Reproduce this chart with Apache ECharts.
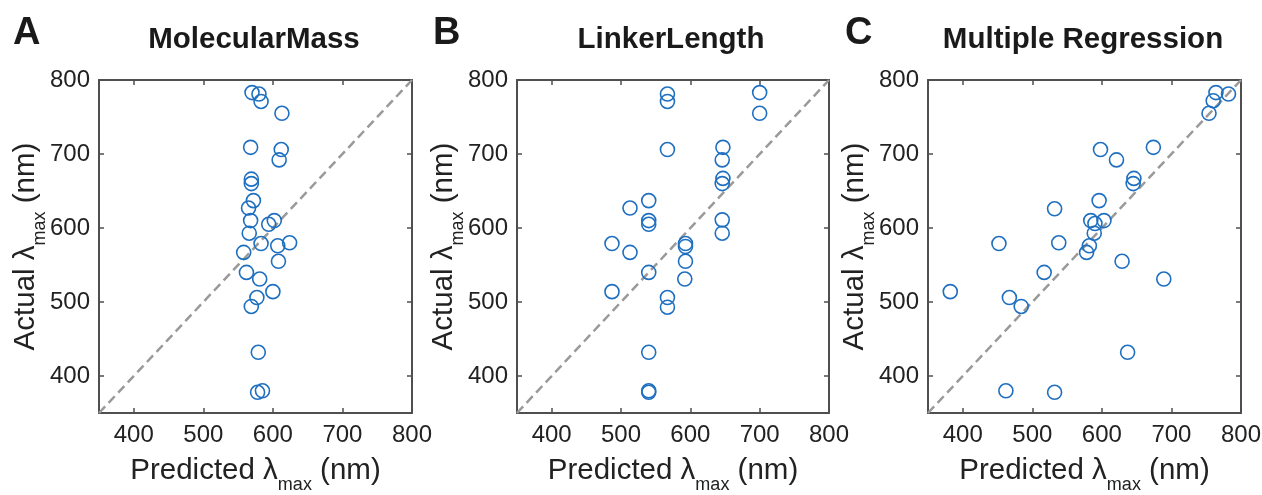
<!DOCTYPE html>
<html><head><meta charset="utf-8">
<script src="https://cdn.jsdelivr.net/npm/echarts@6/dist/echarts.min.js"></script>
<style>html,body{margin:0;padding:0;background:#fff}#c{width:1262px;height:495px}</style>
</head><body><div id="c"></div>
<script>
const TITLES = ['MolecularMass', 'LinkerLength', 'Multiple Regression'];
const LETTERS = ['A', 'B', 'C'];
const TICKS = [400, 500, 600, 700, 800];
const AXIS_MIN = 350, AXIS_MAX = 800;

const predA = [570, 580, 583, 613, 568, 612, 609, 569, 569, 572, 565, 568, 594, 602, 566, 583, 607, 624, 558, 608, 562, 581, 600, 577, 569, 579, 585, 578];
const actA  = [783, 781, 771, 755, 709, 706, 692, 666, 660, 637, 627, 610, 605, 610, 593, 579, 576, 580, 567, 555, 540, 531, 514, 506, 494, 432, 380, 378];

const predB = [567, 567, 700, 700, 567, 647, 646, 647, 646, 540, 513, 540, 540, 646, 646, 487, 593, 593, 513, 593, 540, 592, 487, 567, 567, 540, 540, 540];
const actB  = [781, 771, 783, 755, 706, 709, 692, 667, 660, 637, 627, 610, 605, 611, 593, 579, 579, 575, 567, 555, 540, 531, 514, 506, 493, 432, 380, 378];

const predC = [764, 782, 760, 754, 598, 674, 621, 646, 645, 596, 532, 584, 590, 603, 589, 452, 538, 582, 578, 629, 517, 689, 382, 467, 484, 637, 462, 532];
const actC  = [783, 781, 772, 755, 706, 709, 692, 667, 660, 637, 626, 610, 606, 610, 593, 579, 580, 576, 567, 555, 540, 531, 514, 506, 494, 432, 380, 378];

const PANELS = [[predA, actA], [predB, actB], [predC, actC]];
const DIAG = [[AXIS_MIN, AXIS_MIN], [AXIS_MAX, AXIS_MAX]];

const FONT = '"Liberation Sans", Arial, Helvetica, sans-serif';
const AX_COLOR = '#4f4f4f';
const TXT = '#222222';
const BLUE = '#1f6fc0';

const GRIDS = [
  {left: 99, top: 80, width: 313, height: 333},
  {left: 517, top: 80, width: 312, height: 333},
  {left: 928, top: 80, width: 313, height: 333}
];
const TITLE_X = [254, 671, 1083];
const LETTER_X = [13, 433, 845];

const rich = {
  m: {fontSize: 29.5, fontFamily: FONT, color: TXT, lineHeight: 46},
  s: {fontSize: 18, fontFamily: FONT, color: TXT, lineHeight: 18, verticalAlign: 'bottom'}
};

const axisLine = {show: true, onZero: false, lineStyle: {color: AX_COLOR, width: 2}};
const axisTick = {show: true, inside: true, length: 5, customValues: TICKS, lineStyle: {color: AX_COLOR, width: 1.5}};

const xAxis = [], yAxis = [], series = [], grid = [], graphic = [];
PANELS.forEach((p, i) => {
  grid.push(Object.assign({outerBoundsMode: 'none', containLabel: false}, GRIDS[i]));
  xAxis.push({
    gridIndex: i, type: 'value', position: 'bottom', min: AXIS_MIN, max: AXIS_MAX,
    axisLine, axisTick, splitLine: {show: false},
    axisLabel: {customValues: TICKS, margin: 10, fontSize: 24, fontFamily: FONT, color: TXT},
    name: '{m|Predicted λ}{s|max}{m| (nm)}', nameLocation: 'middle', nameGap: 35,
    nameMoveOverlap: false,
    nameTextStyle: {rich}
  });
  xAxis.push({
    gridIndex: i, type: 'value', position: 'top', min: AXIS_MIN, max: AXIS_MAX,
    axisLine, axisTick, splitLine: {show: false}, axisLabel: {show: false}
  });
  yAxis.push({
    gridIndex: i, type: 'value', position: 'left', min: AXIS_MIN, max: AXIS_MAX,
    axisLine, axisTick, splitLine: {show: false},
    axisLabel: {customValues: TICKS, margin: 9, fontSize: 24, fontFamily: FONT, color: TXT},
    name: '{m|Actual λ}{s|max}{m| (nm)}', nameLocation: 'middle', nameGap: 50,
    nameMoveOverlap: false,
    nameTextStyle: {rich}
  });
  yAxis.push({
    gridIndex: i, type: 'value', position: 'right', min: AXIS_MIN, max: AXIS_MAX,
    axisLine, axisTick, splitLine: {show: false}, axisLabel: {show: false}
  });
  series.push({
    type: 'line', xAxisIndex: 2 * i, yAxisIndex: 2 * i, data: DIAG,
    symbol: 'none', silent: true, z: 1,
    lineStyle: {color: '#9a9a9a', width: 2.5, type: [9, 5]}
  });
  series.push({
    type: 'scatter', xAxisIndex: 2 * i, yAxisIndex: 2 * i,
    data: p[0].map((x, k) => [x, p[1][k]]),
    symbol: 'circle', symbolSize: 14, z: 2,
    itemStyle: {color: 'rgba(0,0,0,0)', borderColor: BLUE, borderWidth: 1.6, opacity: 1}
  });
  graphic.push({
    type: 'text', x: TITLE_X[i], y: 40,
    style: {text: TITLES[i], font: 'bold 29.5px ' + FONT, fill: '#1a1a1a', textAlign: 'center', textVerticalAlign: 'middle'}
  });
  graphic.push({
    type: 'text', x: LETTER_X[i], y: 34,
    style: {text: LETTERS[i], font: 'bold 38px ' + FONT, fill: '#1a1a1a', textAlign: 'left', textVerticalAlign: 'middle'}
  });
});

const chart = echarts.init(document.getElementById('c'), null, {renderer: 'canvas'});
chart.setOption({
  animation: false,
  backgroundColor: '#ffffff',
  grid, xAxis, yAxis, series, graphic
});
</script>
</body></html>
